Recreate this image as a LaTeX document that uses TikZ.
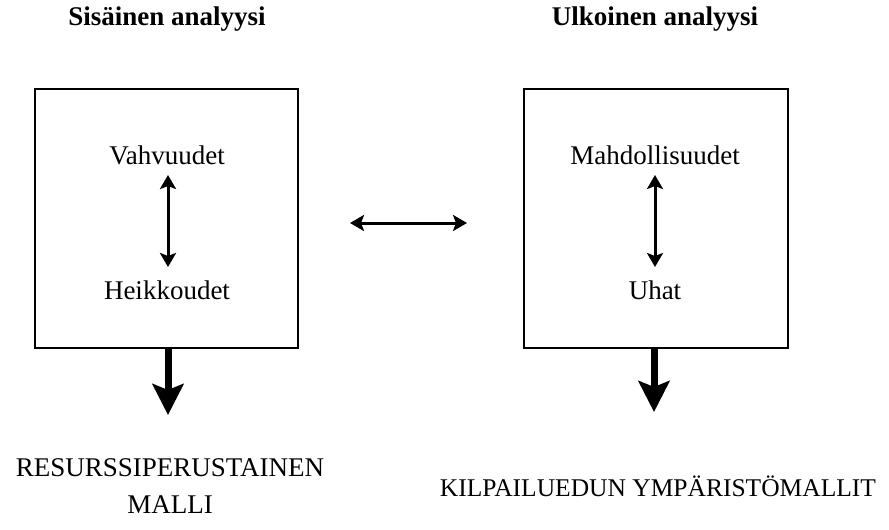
\documentclass[tikz,border=0pt]{standalone}
\usepackage{fontspec}
\setmainfont{Liberation Serif}
\usetikzlibrary{arrows.meta}

\tikzset{
  lbl/.style={inner sep=0pt, font=\fontsize{27}{37}\selectfont, align=center},
  head/.style={lbl, font=\fontsize{27}{37}\selectfont\bfseries},
  swot/.style={draw, line width=2pt},
  twoway/.style={line width=3pt, {Stealth[length=14pt,width=16pt,inset=3pt]}-{Stealth[length=14pt,width=16pt,inset=3pt]}},
  result/.style={line width=7pt, -{Stealth[length=31pt,width=31pt,inset=6pt]}}
}

\begin{document}
\begin{tikzpicture}[x=1pt, y=-1pt]
    \useasboundingbox (0,0) rectangle (889,530);

    % otsikot
    \node[head] (sis) at (167,19) {Sisäinen analyysi};
    \node[head] (ulk) at (655,19) {Ulkoinen analyysi};

    % laatikot
    \draw[swot] (35,89) rectangle (298,348);
    \draw[swot] (524,89) rectangle (788,348);
    \coordinate (boxL) at (168,348);
    \coordinate (boxR) at (654,348);

    \node[lbl] (vahv) at (167,155) {Vahvuudet};
    \node[lbl] (heik) at (167,290) {Heikkoudet};
    \node[lbl] (mahd) at (655,155) {Mahdollisuudet};
    \node[lbl] (uhat) at (655,290) {Uhat};

    \coordinate (vtop) at (168,175);
    \coordinate (vbot) at (168,267);
    \coordinate (mtop) at (655,175);
    \coordinate (mbot) at (655,267);
    \draw[twoway] (vtop) -- (vbot);
    \draw[twoway] (mtop) -- (mbot);

    \coordinate (mid1) at (350,223);
    \coordinate (mid2) at (467,223);
    \draw[twoway] (mid1) -- (mid2);

    % tulokset
    \coordinate (tipL) at (168,415);
    \coordinate (tipR) at (654,412);
    \draw[result] (boxL) -- (tipL);
    \draw[result] (boxR) -- (tipR);

    \node[lbl] (res) at (170,486) {RESURSSIPERUSTAINEN\\MALLI};
    \node[lbl, font=\fontsize{25.5}{35}\selectfont] (kil) at (658,486) {KILPAILUEDUN YMPÄRISTÖMALLIT};

  \end{tikzpicture}
\end{document}
